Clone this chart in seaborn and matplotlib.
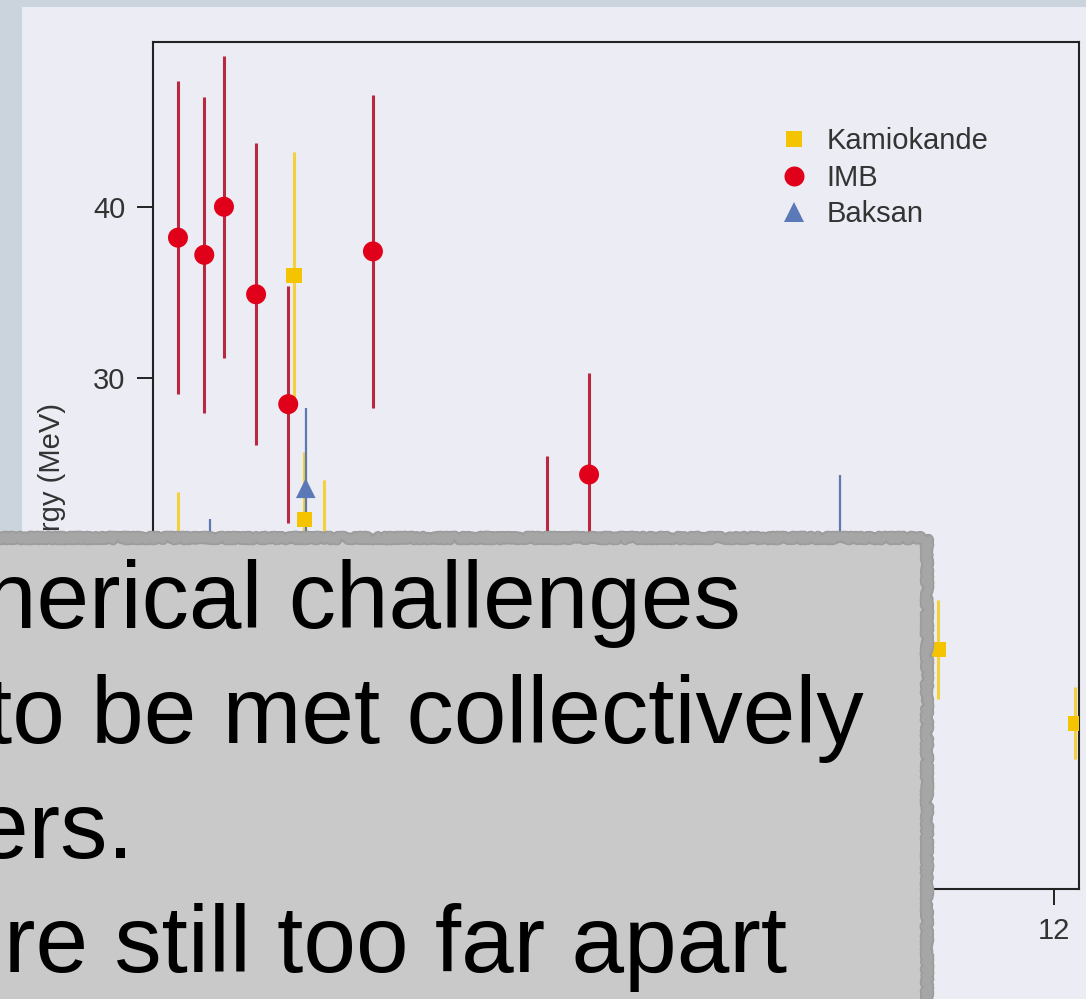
import matplotlib
matplotlib.use("Agg")
import matplotlib.pyplot as plt
from matplotlib.patches import Rectangle
from matplotlib.lines import Line2D
import numpy as np
import pandas as pd
import seaborn as sns

# Neutrino events from SN 1987A: arrival time (s), energy (MeV), energy uncertainty (MeV)
kam_time = [0.0, 0.11, 0.30, 0.32, 0.51, 0.69, 1.59, 1.73, 2.00, 9.22, 10.41, 12.29]
kam_energy = [20.0, 13.5, 7.5, 9.2, 12.8, 6.3, 36.0, 21.8, 20.0, 8.6, 14.2, 9.9]
kam_err = [3.4, 3.2, 2.0, 2.7, 2.9, 1.7, 7.2, 3.9, 4.1, 2.7, 2.9, 2.1]

imb_time = [0.0, 0.36, 0.63, 1.07, 1.51, 2.67, 5.05, 5.63]
imb_energy = [38.2, 37.2, 40.0, 34.9, 28.5, 37.4, 19.5, 24.4]
imb_err = [9.1, 9.2, 8.8, 8.8, 6.9, 9.1, 6.0, 5.9]

bak_time = [0.0, 0.44, 1.75, 7.69, 9.07]
bak_energy = [12.0, 18.0, 23.6, 17.0, 20.3]
bak_err = [2.4, 3.8, 4.7, 3.3, 4.1]

detectors = ["Kamiokande", "IMB", "Baksan"]
y_ticks = [10, 20, 30, 40]
x_ticks = [0, 2, 4, 6, 8, 10, 12]

overlay_lines = [
    "nerical challenges",
    "to be met collectively",
    "ers.",
    "re still too far apart",
]

marker_color = {"Kamiokande": "#f5c400", "IMB": "#e1001a", "Baksan": "#5b79b6"}
bar_color = {"Kamiokande": "#f3d03c", "IMB": "#b8283e", "Baksan": "#5f78ad"}
bar_width = {"Kamiokande": 2.2, "IMB": 2.2, "Baksan": 1.6}
markers = {"Kamiokande": "s", "IMB": "o", "Baksan": "^"}
sizes = {"Kamiokande": 120, "IMB": 207, "Baksan": 200}

frames = []
for name, t, e, err in [
    ("Kamiokande", kam_time, kam_energy, kam_err),
    ("IMB", imb_time, imb_energy, imb_err),
    ("Baksan", bak_time, bak_energy, bak_err),
]:
    frames.append(pd.DataFrame({"time": t, "energy": e, "err": err, "detector": name}))
events = pd.concat(frames, ignore_index=True)

sns.set_theme(style="ticks")
plt.rcParams["font.family"] = ["Liberation Sans Narrow", "Liberation Sans", "DejaVu Sans"]

W, H = 1086, 999


def fx(px):
    return px / W


def fy(py):
    return 1 - py / H


fig = plt.figure(figsize=(W / 100, H / 100), dpi=100)
fig.patch.set_facecolor("#cbd3dc")

# lighter page panel behind the chart
panel = Rectangle((fx(22), 0), 1, fy(7), transform=fig.transFigure,
                  facecolor="#ebecf4", edgecolor="none", zorder=-10)
fig.add_artist(panel)

ax = fig.add_axes([fx(153), fy(889), fx(1079) - fx(153), fy(42) - fy(889)])
ax.set_facecolor("#ebecf4")

# error bars first, markers on top
for name in ["IMB", "Kamiokande", "Baksan"]:
    sub = events[events["detector"] == name]
    ax.errorbar(sub["time"], sub["energy"], yerr=sub["err"], fmt="none",
                ecolor=bar_color[name], elinewidth=bar_width[name], capsize=0, zorder=2)

sns.scatterplot(data=events, x="time", y="energy", hue="detector", style="detector",
                size="detector", hue_order=detectors, style_order=detectors,
                size_order=detectors, palette=marker_color, markers=markers,
                sizes=sizes, linewidth=0, legend=False, ax=ax, zorder=3)

ax.set_xlim(-0.342, 12.34)
ax.set_ylim(0.25, 49.6)
ax.set_xticks(x_ticks)
ax.set_yticks(y_ticks)
ax.set_xlabel("")
ax.set_ylabel("Energy (MeV)", fontsize=21, color="#333333", va="center")
ax.yaxis.set_label_coords(-0.109, 0.467)
ax.tick_params(direction="out", length=11.5, width=1.4, color="#222222",
               labelsize=21, labelcolor="#333333", pad=8.5)
for sp in ax.spines.values():
    sp.set_visible(True)
    sp.set_color("#222222")
    sp.set_linewidth(1.5)

handles = [Line2D([0], [0], linestyle="none", marker=markers[d],
                  markerfacecolor=marker_color[d], markeredgewidth=0,
                  markersize=(12 if d == "Kamiokande" else 14.4)) for d in detectors]
ax.legend(handles, detectors, loc="upper left",
          bbox_to_anchor=(fx(779), fy(127)), bbox_transform=fig.transFigure,
          frameon=False, fontsize=21, handlelength=1.0, handletextpad=0.62,
          labelspacing=0.3, borderpad=0, borderaxespad=0, labelcolor="#333333")

# grey caption card laid over the lower-left part of the chart
card = Rectangle((fx(-30), fy(1030)), fx(927) - fx(-30), fy(538) - fy(1030),
                 transform=fig.transFigure, facecolor="#c9c9c9", edgecolor="none", zorder=4)
fig.add_artist(card)
# ragged torn-paper border along the top and right sides
for lw, col, sc in [(7.5, "#9c9c9c", 2.2), (4.0, "#a6a6a6", 3.0)]:
    edge = Line2D([fx(-30), fx(927), fx(927)], [fy(538), fy(538), fy(1030)],
                  transform=fig.transFigure, color=col, linewidth=lw,
                  solid_joinstyle="round", solid_capstyle="round", zorder=5)
    edge.set_sketch_params(scale=sc, length=2, randomness=4)
    fig.add_artist(edge)

line_x = [-16, -14, -24, 4]
line_base = [628, 743, 858, 972]
for s, x0, yb in zip(overlay_lines, line_x, line_base):
    fig.text(fx(x0), fy(yb), s, fontsize=68, color="black",
             family=["Liberation Sans", "DejaVu Sans"], ha="left", va="baseline", zorder=6)

fig.savefig("out.png", dpi=100, facecolor=fig.get_facecolor())
